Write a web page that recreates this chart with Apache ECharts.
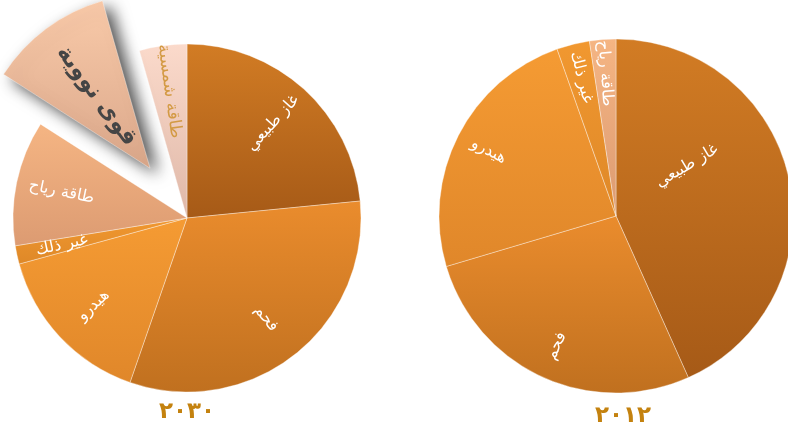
<!DOCTYPE html>
<html>
<head>
<meta charset="utf-8">
<script src="https://cdn.jsdelivr.net/npm/echarts@6/dist/echarts.min.js"></script>
<style>
  html, body { margin: 0; padding: 0; background: #fff; }
</style>
</head>
<body>
<div id="main" style="width:788px;height:439px"></div>
<script>
// البيانات
const cats2030 = ['غاز طبيعي', 'فحم', 'هيدرو', 'غير ذلك', 'طاقة رياح', 'قوى نووية', 'طاقة شمسية']
const vals2030 = [23.4, 31.8, 15.4, 1.7, 11.6, 11.5, 4.4]
const cats2012 = ['غاز طبيعي', 'فحم', 'هيدرو', 'غير ذلك', 'طاقة رياح']
const vals2012 = [43.3, 27.1, 24.2, 3.0, 2.4]
const years = ['٢٠٣٠', '٢٠١٢']

const fontAr = 'DejaVu Sans'

// ألوان الشرائح (أعلى، أسفل)
const sliceColors = {
  'غاز طبيعي': ['#d27c24', '#a65a17'],
  'فحم': ['#ea8c2d', '#c0701f'],
  'هيدرو': ['#f59b33', '#e0872a'],
  'غير ذلك': ['#f19830', '#de8828'],
  'طاقة رياح': ['#f5b583', '#dc9b72'],
  'قوى نووية': ['#f9caa9', '#daa78a'],
  'طاقة شمسية': ['#fbdacb', '#dfb8a8']
}

function grad (name) {
  const c = sliceColors[name]
  return new echarts.graphic.LinearGradient(0, 0, 0, 1, [
    { offset: 0, color: c[0] },
    { offset: 1, color: c[1] }
  ])
}

// السلسلة المرئية
function mainData (cats, vals, year) {
  return cats.map((name, i) => {
    const item = {
      name: name,
      value: vals[i],
      itemStyle: { color: grad(name) },
      label: { show: false }
    }
    if (year === 2030 && name === 'قوى نووية') {
      item.selected = true
      item.itemStyle.shadowColor = 'rgba(0,0,0,0.7)'
      item.itemStyle.shadowBlur = 16
      item.itemStyle.shadowOffsetX = 8
      item.itemStyle.shadowOffsetY = 6
      item.label = {
        show: true,
        color: '#454545',
        fontWeight: 'bold',
        fontSize: 23
      }
    }
    if (year === 2012 && name === 'غاز طبيعي') {
      item.label = { show: true, rotate: 31 }
    }
    return item
  })
}

// سلسلة شفافة للتسميات فقط
function labelData (cats, vals, year) {
  return cats.map((name, i) => {
    const item = { name: name, value: vals[i], label: { show: true } }
    if (year === 2030 && name === 'قوى نووية') item.label.show = false
    if (year === 2012 && name === 'غاز طبيعي') item.label.show = false
    if (name === 'طاقة شمسية') {
      item.label.color = '#d39a44'
      item.label.fontSize = 17
    }
    return item
  })
}

const baseLabel = {
  position: 'inside',
  rotate: 'radial',
  color: '#fff',
  fontSize: 16,
  fontFamily: fontAr
}

let myChart = echarts.init(document.getElementById('main'))
let option = {
  animation: false,
  series: [
    {
      type: 'pie',
      center: [187, 218],
      radius: 174,
      startAngle: 90,
      selectedMode: 'single',
      selectedOffset: 62,
      silent: true,
      itemStyle: { borderColor: 'rgba(255,255,255,0.45)', borderWidth: 0.8 },
      label: baseLabel,
      labelLine: { show: false },
      data: mainData(cats2030, vals2030, 2030)
    },
    {
      type: 'pie',
      center: [187, 218],
      radius: 250,
      startAngle: 90,
      silent: true,
      z: 3,
      itemStyle: { color: 'rgba(0,0,0,0)', borderWidth: 0 },
      label: baseLabel,
      labelLine: { show: false },
      data: labelData(cats2030, vals2030, 2030)
    },
    {
      type: 'pie',
      center: [616, 216],
      radius: 177,
      startAngle: 90,
      silent: true,
      itemStyle: { borderColor: 'rgba(255,255,255,0.45)', borderWidth: 0.8 },
      label: baseLabel,
      labelLine: { show: false },
      labelLayout: function (params) {
        return params.dataIndex === 0 ? { dy: -36 } : {}
      },
      data: mainData(cats2012, vals2012, 2012)
    },
    {
      type: 'pie',
      center: [616, 216],
      radius: 280,
      startAngle: 90,
      silent: true,
      z: 3,
      itemStyle: { color: 'rgba(0,0,0,0)', borderWidth: 0 },
      label: baseLabel,
      labelLine: { show: false },
      data: labelData(cats2012, vals2012, 2012)
    }
  ],
  graphic: [
    {
      type: 'text',
      x: 187,
      y: 412,
      style: {
        text: years[0],
        fill: '#c4820f',
        font: 'bold 23px "DejaVu Sans"',
        textAlign: 'center',
        textVerticalAlign: 'middle'
      }
    },
    {
      type: 'text',
      x: 623,
      y: 416,
      style: {
        text: years[1],
        fill: '#c4820f',
        font: 'bold 23px "DejaVu Sans"',
        textAlign: 'center',
        textVerticalAlign: 'middle'
      }
    }
  ]
}
myChart.setOption(option)
</script>
</body>
</html>
